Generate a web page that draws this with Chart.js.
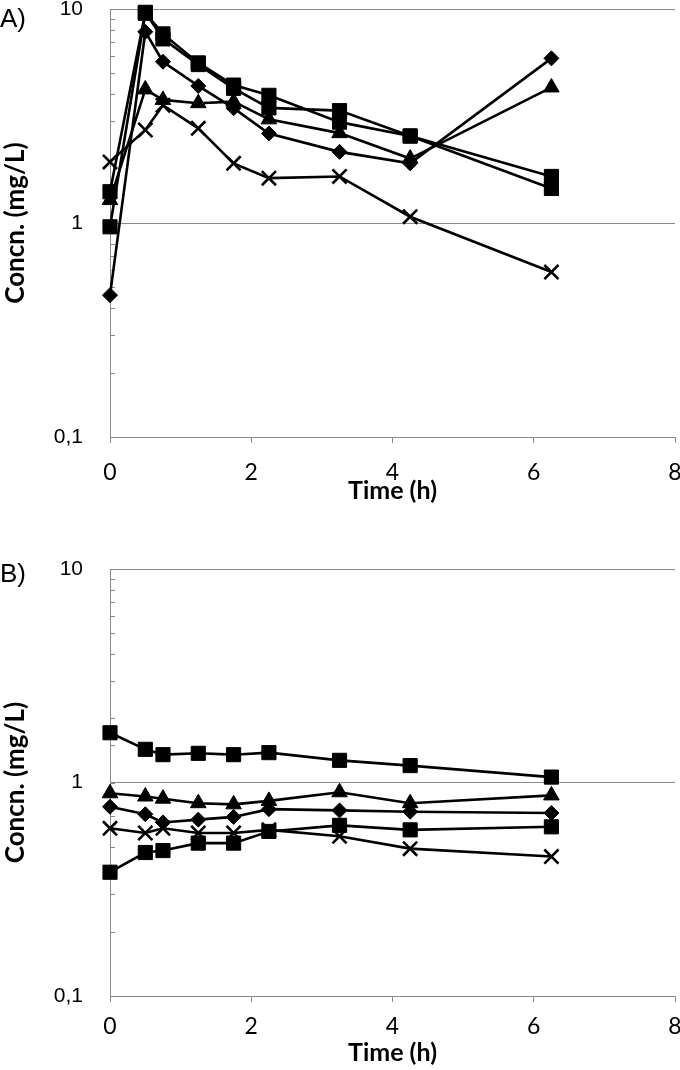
<!DOCTYPE html>
<html>
<head>
<meta charset="utf-8">
<script src="https://cdn.jsdelivr.net/npm/chart.js@4"></script>
<style>
  body { margin: 0; background: #fff; width: 680px; height: 1070px; position: relative; overflow: hidden; }
  .panel { position: absolute; left: 0; width: 680px; height: 535px; }
  .tag { position: absolute; left: 0; font-family: "Liberation Sans", Arial, sans-serif; font-size: 26px; color: #000; }
</style>
</head>
<body>
<div class="panel" style="top:0"><canvas id="chartA" width="680" height="535"></canvas></div>
<div class="panel" style="top:535px"><canvas id="chartB" width="680" height="535"></canvas></div>
<div class="tag" style="top:3px">A)</div>
<div class="tag" style="top:558px">B)</div>
<script>
let times = [0, 0.5, 0.75, 1.25, 1.75, 2.25, 3.25, 4.25, 6.25];
let xTicks = [0, 2, 4, 6, 8];
let yTicks = [0.1, 1, 10];
let yTickLabels = ['0,1', '1', '10'];

// panel A, concentrations (mg/L)
let aCross    = [1.93, 2.72, 3.55, 2.77, 1.90, 1.62, 1.65, 1.07, 0.59];
let aTriangle = [1.28, 4.21, 3.76, 3.63, 3.69, 3.05, 2.63, 2.00, 4.30];
let aDiamond  = [0.46, 7.83, 5.67, 4.37, 3.44, 2.62, 2.15, 1.90, 5.88];
let aSquare1  = [0.96, 9.55, 7.65, 5.60, 4.41, 3.95, 2.96, 2.55, 1.45];
let aSquare2  = [1.40, 9.65, 7.25, 5.50, 4.26, 3.45, 3.35, 2.55, 1.65];

// panel B
let bCross    = [0.61, 0.58, 0.61, 0.58, 0.58, 0.60, 0.56, 0.49, 0.45];
let bTriangle = [0.89, 0.86, 0.84, 0.80, 0.79, 0.82, 0.90, 0.80, 0.87];
let bDiamond  = [0.77, 0.71, 0.65, 0.67, 0.69, 0.75, 0.74, 0.73, 0.72];
let bSquare1  = [0.38, 0.47, 0.48, 0.52, 0.52, 0.59, 0.63, 0.60, 0.62];
let bSquare2  = [1.71, 1.43, 1.35, 1.37, 1.35, 1.38, 1.27, 1.20, 1.06];

let gray = '#8a8a8a';
let tickFont = { family: 'Lato, "Liberation Sans", sans-serif', size: 23 };
let yTickFont = { family: '"Liberation Sans", Arial, sans-serif', size: 21 };
let xTitleFont = { family: 'Lato, "Liberation Sans", sans-serif', size: 25, weight: 'bold' };
let yTitleFont = { family: 'Lato, "Liberation Sans", sans-serif', size: 26, weight: 'bold' };

function isMajor(v) {
  let l = Math.log10(v);
  return Math.abs(l - Math.round(l)) < 1e-6;
}

function series(values, style, radius) {
  return {
    data: values.map((v, i) => ({ x: times[i], y: v })),
    borderColor: '#000',
    backgroundColor: '#000',
    borderWidth: 2.6,
    pointStyle: style,
    pointRadius: radius,
    pointHoverRadius: radius,
    pointBackgroundColor: '#000',
    pointBorderColor: '#000',
    pointBorderWidth: style === 'crossRot' ? 2.6 : 1,
    tension: 0,
    clip: false
  };
}

// small inside tick marks on the log axis
let insideTicks = {
  id: 'insideTicks',
  beforeDatasetsDraw(chart) {
    let y = chart.scales.y;
    let ctx = chart.ctx;
    ctx.save();
    ctx.strokeStyle = gray;
    ctx.lineWidth = 1;
    y.ticks.forEach(t => {
      let py = Math.round(y.getPixelForValue(t.value)) + 0.5;
      ctx.beginPath();
      ctx.moveTo(y.right, py);
      ctx.lineTo(y.right + 5, py);
      ctx.stroke();
    });
    ctx.restore();
  }
};

function makeChart(id, sets, pad, xHeight, labelPad) {
  return new Chart(document.getElementById(id), {
    type: 'line',
    data: {
      datasets: [
        series(sets[0], 'crossRot', 10),
        series(sets[1], 'triangle', 9),
        series(sets[2], 'rectRot', 7.5),
        series(sets[3], 'rect', 10),
        series(sets[4], 'rect', 10)
      ]
    },
    options: {
      responsive: false,
      animation: false,
      events: [],
      layout: { padding: pad, autoPadding: false },
      plugins: { legend: { display: false }, tooltip: { enabled: false } },
      scales: {
        x: {
          type: 'linear',
          min: 0,
          max: 8,
          afterBuildTicks: s => { s.ticks = xTicks.map(v => ({ value: v })); },
          afterFit: s => { s.height = xHeight; s.paddingLeft = 0; s.paddingRight = 0; },
          ticks: { color: '#000', font: tickFont, padding: labelPad, maxRotation: 0 },
          grid: { drawOnChartArea: false, drawTicks: true, tickLength: 6, tickColor: gray },
          border: { color: gray, width: 1 },
          title: { display: true, text: 'Time (h)', color: '#000', font: xTitleFont, padding: 0 }
        },
        y: {
          type: 'logarithmic',
          min: 0.1,
          max: 10,
          afterFit: s => { s.width = 110; s.paddingTop = 0; s.paddingBottom = 0; },
          ticks: {
            autoSkip: false,
            color: '#000',
            font: yTickFont,
            padding: 3,
            callback: v => {
              if (!isMajor(v)) return '';
              let i = yTicks.findIndex(t => Math.abs(Math.log10(t) - Math.log10(v)) < 1e-6);
              return i >= 0 ? yTickLabels[i] : '';
            }
          },
          grid: {
            drawTicks: true,
            tickLength: 24,
            tickColor: 'rgba(0,0,0,0)',
            color: c => (c.tick && isMajor(c.tick.value)) ? gray : 'rgba(0,0,0,0)'
          },
          border: { color: gray, width: 1 },
          title: { display: true, text: 'Concn. (mg/L)', color: '#000', font: yTitleFont, padding: 0 }
        }
      }
    },
    plugins: [insideTicks]
  });
}

makeChart('chartA', [aCross, aTriangle, aDiamond, aSquare1, aSquare2],
  { left: 0, right: 5, top: 9, bottom: 29 }, 69, 16);
makeChart('chartB', [bCross, bTriangle, bDiamond, bSquare1, bSquare2],
  { left: 0, right: 5, top: 34, bottom: 2 }, 72, 11);
</script>
</body>
</html>
